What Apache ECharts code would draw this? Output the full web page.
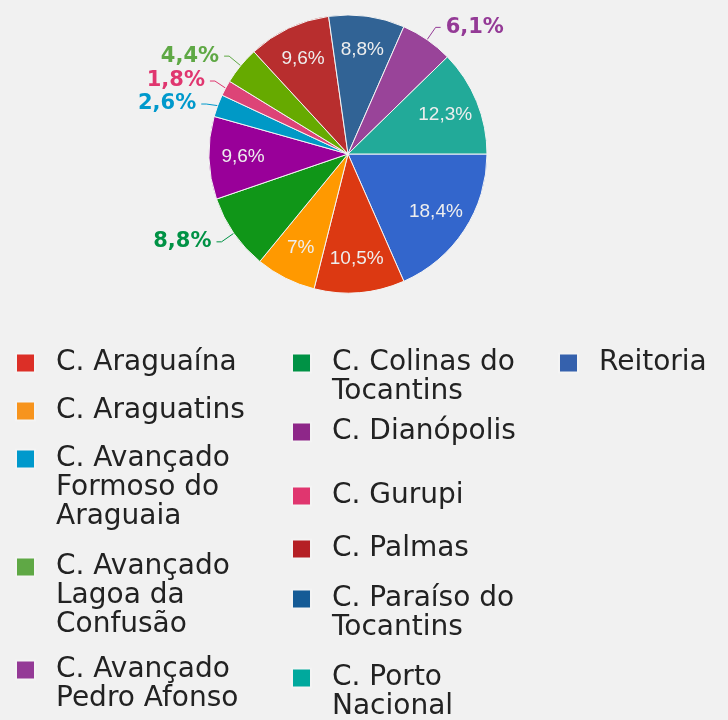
<!DOCTYPE html>
<html>
<head>
<meta charset="utf-8">
<script src="https://cdn.jsdelivr.net/npm/echarts@6/dist/echarts.min.js"></script>
<style>
  html, body { margin: 0; padding: 0; background: #f1f1f1; }
  #chart { width: 728px; height: 720px; }
</style>
</head>
<body>
<div id="chart"></div>
<script>
// fatias em ordem horaria a partir das 3h
const campi = ['Reitoria', 'C. Araguaína', 'C. Araguatins', 'C. Colinas do Tocantins', 'C. Dianópolis',
  'C. Avançado Formoso do Araguaia', 'C. Gurupi', 'C. Avançado Lagoa da Confusão', 'C. Palmas',
  'C. Paraíso do Tocantins', 'C. Avançado Pedro Afonso', 'C. Porto Nacional'];
const percentuais = [18.4, 10.5, 7, 8.8, 9.6, 2.6, 1.8, 4.4, 9.6, 8.8, 6.1, 12.3];
const coresFatia = ['#3366cc', '#dc3912', '#ff9900', '#109618', '#990099', '#0099c6',
  '#dd4477', '#66aa00', '#b82e2e', '#316395', '#994499', '#22aa99'];
const coresLegenda = ['#3561ad', '#dc2f27', '#f7941d', '#009245', '#8e2789', '#0099cc',
  '#e0366f', '#5fa845', '#b52025', '#155b96', '#943a96', '#00a99d'];
const rotulosFora = ['C. Colinas do Tocantins', 'C. Avançado Formoso do Araguaia', 'C. Gurupi',
  'C. Avançado Lagoa da Confusão', 'C. Avançado Pedro Afonso'];
// texto da legenda quebrado em linhas
const linhasLegenda = {
  'C. Araguaína': ['C. Araguaína'],
  'C. Araguatins': ['C. Araguatins'],
  'C. Avançado Formoso do Araguaia': ['C. Avançado', 'Formoso do', 'Araguaia'],
  'C. Avançado Lagoa da Confusão': ['C. Avançado', 'Lagoa da', 'Confusão'],
  'C. Avançado Pedro Afonso': ['C. Avançado', 'Pedro Afonso'],
  'C. Colinas do Tocantins': ['C. Colinas do', 'Tocantins'],
  'C. Dianópolis': ['C. Dianópolis'],
  'C. Gurupi': ['C. Gurupi'],
  'C. Palmas': ['C. Palmas'],
  'C. Paraíso do Tocantins': ['C. Paraíso do', 'Tocantins'],
  'C. Porto Nacional': ['C. Porto', 'Nacional'],
  'Reitoria': ['Reitoria']
};

// posicao de cada item da legenda (x do quadrado, y da primeira linha)
const slots = [
  ['C. Araguaína', 15, 363], ['C. Araguatins', 15, 411], ['C. Avançado Formoso do Araguaia', 15, 459],
  ['C. Avançado Lagoa da Confusão', 15, 567], ['C. Avançado Pedro Afonso', 15, 670],
  ['C. Colinas do Tocantins', 291, 363], ['C. Dianópolis', 291, 432], ['C. Gurupi', 291, 496],
  ['C. Palmas', 291, 549], ['C. Paraíso do Tocantins', 291, 599], ['C. Porto Nacional', 291, 678],
  ['Reitoria', 558, 363]
];

const LH = 29;
const fmtPct = p => String(p.value).replace('.', ',') + '%';

// o texto da legenda fica centrado no quadrado; linhas vazias em cima
// deixam a primeira linha alinhada com ele
const legends = slots.map(([nome, x, y]) => {
  const n = linhasLegenda[nome].length;
  const i = campi.indexOf(nome);
  return {
    data: [{ name: nome, itemStyle: { color: coresLegenda[i] } }],
    left: x,
    top: y - (2 * n - 1) * LH / 2,
    padding: 0,
    icon: 'rect',
    itemWidth: 19,
    itemHeight: 19,
    formatter: nm => '\n'.repeat(n - 1) + linhasLegenda[nm].join('\n'),
    textStyle: {
      fontFamily: 'DejaVu Sans',
      fontSize: 28,
      lineHeight: LH,
      color: '#222',
      padding: [0, 0, 0, 16]
    }
  };
});

const dadosPizza = campi.map((nome, i) => {
  const fora = rotulosFora.includes(nome);
  return {
    name: nome,
    value: percentuais[i],
    itemStyle: { color: coresFatia[i] },
    label: fora ? {
      show: true,
      position: 'outside',
      color: coresLegenda[i],
      fontFamily: 'DejaVu Sans',
      fontWeight: 'bold',
      fontSize: 21
    } : { show: false },
    labelLine: fora ? { show: true, lineStyle: { color: coresLegenda[i], width: 1 } } : { show: false }
  };
});

const dadosRotulos = campi.map((nome, i) => ({
  name: nome,
  value: percentuais[i],
  itemStyle: { color: 'rgba(0,0,0,0)' },
  label: { show: !rotulosFora.includes(nome) }
}));

const option = {
  backgroundColor: '#f1f1f1',
  animation: false,
  legend: legends,
  series: [
    {
      type: 'pie',
      center: [348, 154],
      radius: [0, 139],
      startAngle: 0,
      clockwise: true,
      avoidLabelOverlap: true,
      itemStyle: { borderColor: '#f4f4f4', borderWidth: 1 },
      label: { formatter: fmtPct },
      labelLine: { length: 15, length2: 5 },
      emphasis: { disabled: true },
      data: dadosPizza
    },
    {
      type: 'pie',
      center: [348, 154],
      radius: [0, 204],
      startAngle: 0,
      clockwise: true,
      silent: true,
      itemStyle: { borderWidth: 0 },
      label: {
        position: 'inside',
        formatter: fmtPct,
        color: '#eeeeee',
        fontFamily: 'Liberation Sans',
        fontSize: 19
      },
      labelLine: { show: false },
      emphasis: { disabled: true },
      data: dadosRotulos
    }
  ]
};

const chart = echarts.init(document.getElementById('chart'));
chart.setOption(option);
</script>
</body>
</html>
